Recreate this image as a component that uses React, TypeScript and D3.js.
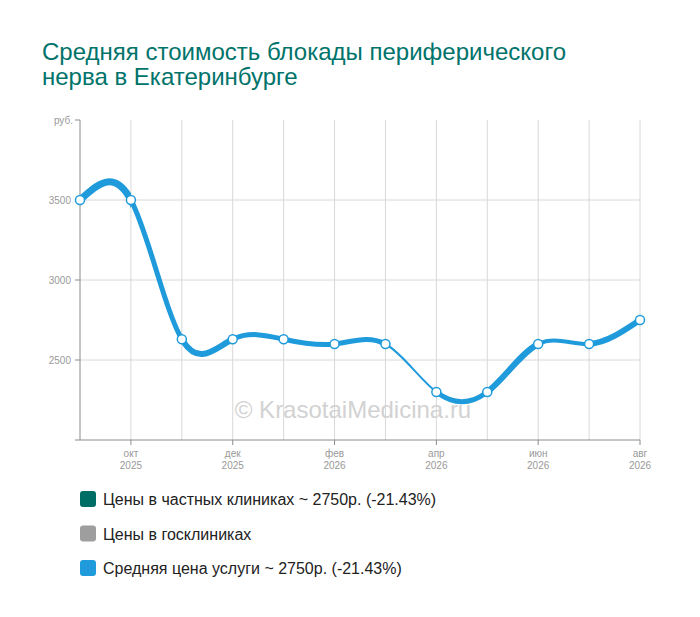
import React from "react";
import * as d3 from "d3";

const months = ["сен 2025", "окт 2025", "ноя 2025", "дек 2025", "янв 2026", "фев 2026", "мар 2026", "апр 2026", "май 2026", "июн 2026", "июл 2026", "авг 2026"];
const tickMonths = ["окт", "дек", "фев", "апр", "июн", "авг"];
const tickYears = ["2025", "2025", "2026", "2026", "2026", "2026"];
const tickIndex = [1, 3, 5, 7, 9, 11];
const avgPrice = [3500, 3500, 2630, 2630, 2630, 2600, 2600, 2300, 2300, 2600, 2600, 2750];
const segWidths = [7, 5, 6, 5, 5, 5, 2, 5, 6, 4, 6];
const yTicks = [2500, 3000, 3500];
const legendItems = [
  { label: "Цены в частных клиниках ~ 2750р. (-21.43%)", color: "#006e65" },
  { label: "Цены в госклиниках", color: "#9e9e9e" },
  { label: "Средняя цена услуги ~ 2750р. (-21.43%)", color: "#1f9bdb" },
];

export default function App() {
  const W = 700, H = 617;
  const x = d3.scaleLinear().domain([0, months.length - 1]).range([80, 640]);
  const y = d3.scaleLinear().domain([2000, 4000]).range([440, 120]);
  const line = d3.line<number>().x((_, i) => x(i)).y((d) => y(d)).curve(d3.curveNatural);
  const path = line(avgPrice) || "";
  const font = "'Liberation Sans', Arial, sans-serif";
  const lineColor = "#1f9bdb";
  return (
    <svg width={W} height={H} style={{ position: "absolute", left: 0, top: 0, background: "#fff" }} fontFamily={font}>
      <defs>
        {segWidths.map((_, i) => (
          <clipPath id={`seg${i}`} key={i}>
            <rect x={x(i)} y={100} width={x(i + 1) - x(i)} height={360} />
          </clipPath>
        ))}
      </defs>
      <text x={42} y={60} fontSize={24} fill="#00736a">Средняя стоимость блокады периферического</text>
      <text x={42} y={85} fontSize={24} fill="#00736a">нерва в Екатеринбурге</text>
      {months.map((_, i) => i > 0 ? (
        <line key={i} x1={x(i)} x2={x(i)} y1={120} y2={440} stroke="#d8d8d8" strokeWidth={1} />
      ) : null)}
      {yTicks.map((t) => (
        <line key={t} x1={80} x2={640} y1={y(t)} y2={y(t)} stroke="#d8d8d8" strokeWidth={1} />
      ))}
      <line x1={80} x2={80} y1={120} y2={440} stroke="#8c8c8c" strokeWidth={1} />
      <line x1={75} x2={640} y1={440} y2={440} stroke="#8c8c8c" strokeWidth={1} />
      <line x1={75} x2={80} y1={120} y2={120} stroke="#8c8c8c" strokeWidth={1} />
      {yTicks.map((t) => (
        <g key={t}>
          <line x1={75} x2={80} y1={y(t)} y2={y(t)} stroke="#8c8c8c" strokeWidth={1} />
          <text x={71} y={y(t) + 3.5} fontSize={10} fill="#999" textAnchor="end">{t}</text>
        </g>
      ))}
      <text x={73} y={123.5} fontSize={10} fill="#999" textAnchor="end">руб.</text>
      {tickIndex.map((idx, k) => (
        <g key={idx}>
          <line x1={x(idx)} x2={x(idx)} y1={440} y2={445} stroke="#8c8c8c" strokeWidth={1} />
          <text x={x(idx)} y={457} fontSize={10} fill="#999" textAnchor="middle">{tickMonths[k]}</text>
          <text x={x(idx)} y={469} fontSize={10} fill="#999" textAnchor="middle">{tickYears[k]}</text>
        </g>
      ))}
      <text x={353} y={418} fontSize={24} fill="#d2d2d2" textAnchor="middle">© KrasotaiMedicina.ru</text>
      {segWidths.map((w, i) => (
        <path key={i} d={path} fill="none" stroke={lineColor} strokeWidth={w} clipPath={`url(#seg${i})`} />
      ))}
      {avgPrice.map((v, i) => (
        <circle key={i} cx={x(i)} cy={y(v)} r={4.5} fill="#fff" stroke={lineColor} strokeWidth={1.5} />
      ))}
      {legendItems.map((it, i) => (
        <g key={i}>
          <rect x={80} y={491 + i * 34.5} width={16} height={16} rx={3} fill={it.color} />
          <text x={103} y={505 + i * 34.5} fontSize={16} fill="#222">{it.label}</text>
        </g>
      ))}
    </svg>
  );
}
